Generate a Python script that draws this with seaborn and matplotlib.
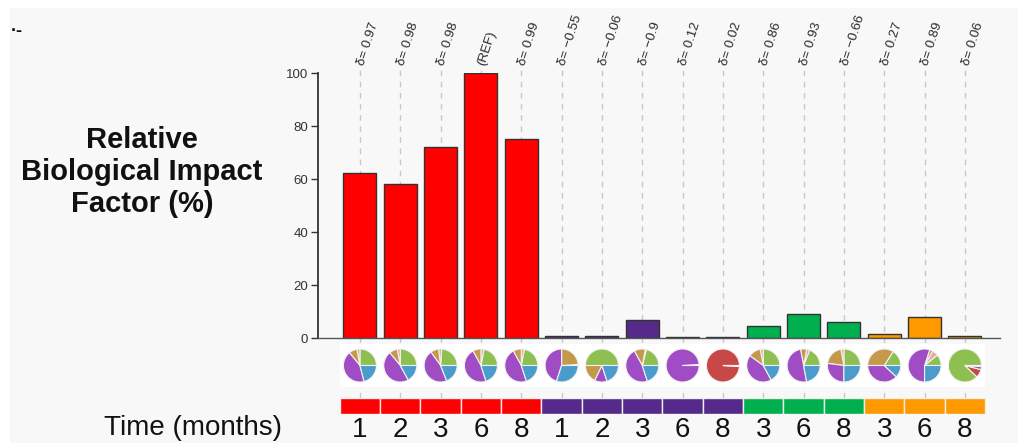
import numpy as np
import pandas as pd
import matplotlib
matplotlib.use("Agg")
import matplotlib.pyplot as plt
from matplotlib.patches import Rectangle
import seaborn as sns

# ---- data ----
time_months = [1, 2, 3, 6, 8, 1, 2, 3, 6, 8, 3, 6, 8, 3, 6, 8]
treatment = ["A"] * 5 + ["B"] * 5 + ["C"] * 3 + ["D"] * 3
impact = [62.3, 58.1, 72.2, 100.0, 75.2, 0.8, 0.8, 7.0, 0.6, 0.5,
          4.5, 9.0, 6.0, 1.5, 7.9, 0.7]
delta = [0.97, 0.98, 0.98, None, 0.99, -0.55, -0.06, -0.9, 0.12, 0.02,
         0.86, 0.93, -0.66, 0.27, 0.89, 0.06]

# composition of each sample (percent), listed counter-clockwise from 3 o'clock
comp_green = [25, 25, 24, 22, 22, 0, 50, 21, 0, 0, 25, 19, 25, 16, 11, 88]
comp_pink = [3, 3, 3, 3, 3, 1, 0, 1, 1, 0, 3, 3, 3, 0, 6, 0]
comp_tan = [8, 8, 8, 8, 8, 24, 18, 11, 0, 0, 12, 6, 20, 34, 3, 0]
comp_red = [0, 0, 0, 0, 0, 0, 0, 0, 0, 99, 0, 0, 0, 0, 0, 8]
comp_purple = [43, 47, 46, 47, 47, 45, 12, 47, 99, 1, 43, 50, 27, 38, 55, 3]
comp_blue = [21, 17, 19, 20, 20, 30, 20, 20, 0, 0, 17, 22, 25, 12, 25, 1]

group_colors = {"A": "#ff0000", "B": "#552a8a", "C": "#00b04f", "D": "#ff9900"}
slice_colors = ["#8dc050", "#eaa6b2", "#c49a4a", "#c84848", "#a04cc4", "#4a9ccc"]

W, H = 1018, 443


def frac(x0, y0, x1, y1):
    return [x0 / W, 1 - y1 / H, (x1 - x0) / W, (y1 - y0) / H]


sns.set_theme(style="white")
plt.rcParams["font.family"] = ["Liberation Sans", "DejaVu Sans"]

fig = plt.figure(figsize=(W / 100, H / 100), dpi=100, facecolor="white")
fig.add_artist(Rectangle((10 / W, 0), 1, 1 - 8 / H, transform=fig.transFigure,
                         facecolor="#f8f8f8", edgecolor="none", zorder=-10))

XLIM = (-1.04, 15.87)
n = len(impact)
slots = [f"{t}m-{i}" for i, t in enumerate(time_months)]
df = pd.DataFrame({"slot": slots, "impact": impact, "treatment": treatment})

# ---- bar panel ----
ax = fig.add_axes(frac(318, 73.3, 1000, 338.3))
ax.set_facecolor("none")
sns.barplot(data=df, x="slot", y="impact", hue="treatment", order=slots,
            hue_order=list(group_colors), palette=group_colors, width=0.82,
            dodge=False, saturation=1, edgecolor="#333333", linewidth=1.0,
            legend=False, ax=ax, zorder=2)
ax.set_xlim(*XLIM)
ax.set_ylim(0, 100)
ax.set_xticks([])
ax.set_yticks([0, 20, 40, 60, 80, 100])
ax.set_xlabel("")
ax.set_ylabel("")
ax.tick_params(axis="y", left=True, length=5, width=1, color="#333333",
               labelsize=9.5, labelcolor="#333333", pad=2)
for s in ("top", "right"):
    ax.spines[s].set_visible(False)
ax.spines["left"].set_color("#333333")
ax.spines["left"].set_linewidth(1.3)
ax.spines["bottom"].set_color("#555555")
ax.spines["bottom"].set_linewidth(1.0)

xt = ax.get_xaxis_transform()
ax.vlines(range(n), -0.225, 1.02, transform=xt, colors="#c8c8c8",
          linestyles=(0, (4, 4)), linewidth=1, clip_on=False, zorder=0.5)
for i, d in enumerate(delta):
    label = "(REF)" if d is None else "δ= " + f"{d:g}".replace("-", "\u2212")
    ax.text(i + 0.02, 1.03, label, transform=xt, rotation=72,
            rotation_mode="anchor", ha="left", va="center", fontsize=9.5,
            color="#2a2a2a", clip_on=False)

# ---- composition pies ----
pax = fig.add_axes(frac(318, 344, 1000, 387))
pax.add_patch(Rectangle((-0.5, -1), 16, 2, facecolor="white", edgecolor="none"))
comps = [comp_green, comp_pink, comp_tan, comp_red, comp_purple, comp_blue]
for i in range(n):
    vals, cols = [], []
    for c, col in zip(comps, slice_colors):
        if c[i] > 0:
            vals.append(c[i])
            cols.append(col)
    pax.pie(vals, colors=cols, center=(i, 0), radius=0.41, startangle=0,
            counterclock=True, frame=True,
            wedgeprops=dict(edgecolor="#f2f2f2", linewidth=0.8))
pax.set_aspect("auto")
pax.set_xlim(*XLIM)
half = (43 / 40.33) / 2
pax.set_ylim(-half, half)
pax.axis("off")

# ---- treatment colour strip with time labels ----
sax = fig.add_axes(frac(318, 398, 1000, 414))
sax.set_facecolor("none")
sax.bar(range(n), 1, width=1, color=[group_colors[t] for t in treatment],
        edgecolor="#eeeeee", linewidth=1)
sax.set_xlim(*XLIM)
sax.set_ylim(0, 1)
sax.set_xticks(range(n))
sax.set_xticklabels([str(t) for t in time_months], fontsize=20, color="#111111")
sax.set_yticks([])
sax.tick_params(axis="x", length=0, pad=2)
for s in sax.spines.values():
    s.set_visible(False)

# ---- side labels ----
fig.text(142 / W, 1 - 172 / H, "Relative\nBiological Impact\nFactor (%)",
         ha="center", va="center", fontsize=21, fontweight="bold",
         color="#111111", linespacing=1.2)
fig.text(193 / W, 1 - 428 / H, "Time (months)", ha="center", va="center",
         fontsize=20, color="#111111")
fig.text(17 / W, 1 - 31 / H, "·-", ha="center", va="center", fontsize=13,
         fontweight="bold", color="#111111")

fig.savefig("out.png", dpi=100, facecolor=fig.get_facecolor())
